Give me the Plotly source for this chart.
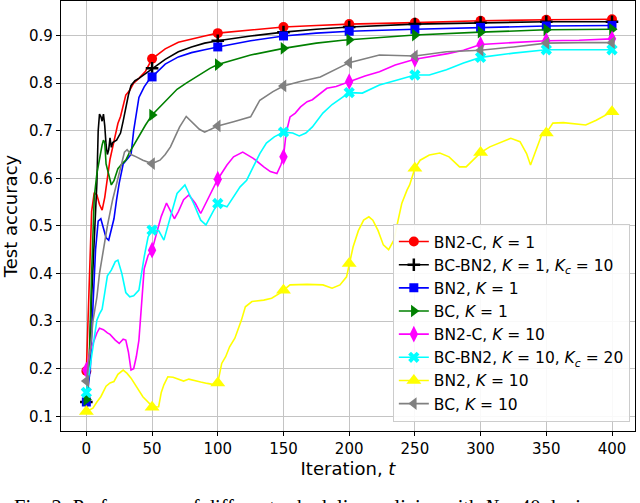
import plotly.graph_objects as go

# ---------------- data ----------------
t_red = [0,2,4,6,8,10,12,14,16,18,20,22,24,26,28,30,33,36,40,45,50,60,70,80,90,100,125,150,175,200,250,300,350,400]
v_red = [0.195,0.36,0.53,0.57,0.565,0.545,0.533,0.56,0.605,0.64,0.665,0.69,0.715,0.73,0.755,0.775,0.785,0.80,0.81,0.825,0.851,0.872,0.886,0.893,0.899,0.905,0.911,0.918,0.921,0.924,0.927,0.931,0.933,0.934]

t_blk = [0,2,4,6,8,9,10,11,12,13,14,15,16,17,18,19,20,23,26,28,30,32,34,37,40,45,50,60,70,80,90,100,125,150,175,200,250,300,350,400]
v_blk = [0.13,0.2,0.35,0.47,0.59,0.70,0.735,0.73,0.72,0.735,0.71,0.67,0.65,0.66,0.685,0.665,0.675,0.68,0.695,0.72,0.75,0.775,0.795,0.805,0.81,0.82,0.831,0.85,0.866,0.876,0.884,0.889,0.899,0.907,0.913,0.918,0.924,0.927,0.929,0.929]

t_blu = [0,3,5,7,9,11,13,15,17,19,21,23,25,28,31,34,36,38,40,44,48,50,60,70,80,90,100,125,150,175,200,250,300,350,400]
v_blu = [0.13,0.2,0.33,0.45,0.51,0.515,0.495,0.475,0.47,0.49,0.515,0.555,0.59,0.63,0.64,0.65,0.70,0.74,0.77,0.792,0.808,0.813,0.840,0.855,0.864,0.870,0.876,0.889,0.899,0.905,0.909,0.913,0.917,0.920,0.921]

t_grn = [0,2,4,6,8,10,12,13,14,15,17,19,21,24,27,30,33,36,40,45,50,56,63,69,76,82,94,100,125,150,175,195,200,250,300,350,400]
v_grn = [0.135,0.2,0.4,0.56,0.61,0.645,0.67,0.68,0.675,0.63,0.61,0.586,0.595,0.62,0.63,0.638,0.655,0.67,0.69,0.712,0.733,0.75,0.77,0.787,0.80,0.81,0.831,0.839,0.859,0.873,0.884,0.89,0.891,0.901,0.907,0.912,0.913]

t_mag = [0,3,6,8,10,13,16,18,22,25,28,30,32,34,36,38,40,42,44,47,50,53,57,61,64,67,70,74,78,83,87,92,97,100,107,112,119,127,135,140,145,148,150,152,155,159,163,168,172,178,183,190,200,212,223,235,250,261,275,287,300,324,350,375,400]
v_mag = [0.197,0.239,0.26,0.275,0.285,0.282,0.275,0.272,0.26,0.253,0.262,0.26,0.235,0.197,0.2,0.225,0.26,0.34,0.41,0.438,0.449,0.48,0.52,0.548,0.53,0.515,0.53,0.555,0.565,0.547,0.526,0.554,0.582,0.598,0.628,0.645,0.655,0.642,0.624,0.614,0.61,0.628,0.645,0.695,0.729,0.737,0.75,0.761,0.765,0.778,0.789,0.793,0.803,0.815,0.824,0.838,0.85,0.855,0.862,0.869,0.881,0.885,0.889,0.89,0.893]

t_cyn = [0,2,4,6,8,10,12,14,16,19,22,24,27,30,33,36,40,42,44,47,50,55,59,64,69,75,82,87,91,97,100,107,112,117,122,127,132,137,143,150,157,162,167,172,180,187,200,210,223,236,250,261,274,287,300,325,350,375,400]
v_cyn = [0.15,0.19,0.233,0.27,0.302,0.315,0.325,0.36,0.395,0.407,0.425,0.428,0.40,0.36,0.351,0.353,0.365,0.40,0.435,0.477,0.491,0.49,0.47,0.519,0.568,0.586,0.545,0.512,0.502,0.533,0.547,0.54,0.561,0.582,0.596,0.624,0.652,0.674,0.687,0.697,0.695,0.689,0.695,0.708,0.737,0.755,0.78,0.779,0.796,0.806,0.817,0.817,0.828,0.842,0.854,0.863,0.87,0.87,0.87]

t_yel = [0,5,8,11,15,18,21,24,28,31,34,38,43,48,50,55,57,59,62,66,70,74,78,82,87,92,96,100,103,106,109,113,118,121,126,135,141,147,150,155,168,180,187,193,198,200,203,207,211,215,218,222,226,230,234,237,240,244,246,250,254,261,269,276,284,289,294,300,307,314,323,330,335,338,342,347,350,355,363,380,388,396,400]
v_yel = [0.11,0.117,0.13,0.141,0.163,0.17,0.173,0.188,0.197,0.19,0.18,0.162,0.141,0.127,0.119,0.12,0.15,0.166,0.183,0.182,0.178,0.174,0.178,0.176,0.172,0.169,0.167,0.17,0.211,0.225,0.246,0.264,0.302,0.33,0.341,0.344,0.348,0.358,0.365,0.376,0.377,0.376,0.369,0.376,0.393,0.421,0.456,0.49,0.512,0.519,0.512,0.49,0.46,0.45,0.47,0.509,0.547,0.575,0.586,0.621,0.638,0.649,0.653,0.645,0.624,0.624,0.638,0.654,0.666,0.674,0.684,0.677,0.652,0.628,0.659,0.695,0.695,0.716,0.717,0.712,0.722,0.733,0.74]

t_gry = [0,3,5,8,10,13,16,20,23,26,29,31,34,38,43,50,56,60,64,68,71,76,81,86,90,95,100,112,125,132,142,150,162,178,193,200,223,235,250,274,300,325,350,375,400]
v_gry = [0.174,0.24,0.30,0.35,0.40,0.45,0.50,0.555,0.59,0.625,0.655,0.66,0.65,0.645,0.638,0.631,0.638,0.65,0.666,0.69,0.708,0.73,0.716,0.703,0.697,0.703,0.71,0.719,0.729,0.764,0.782,0.794,0.803,0.813,0.834,0.843,0.859,0.858,0.857,0.866,0.869,0.876,0.884,0.885,0.885]

labels = [
    "BN2-C, <i>K</i> = 1",
    "BC-BN2, <i>K</i> = 1, <i>K<sub>c</sub></i> = 10",
    "BN2, <i>K</i> = 1",
    "BC, <i>K</i> = 1",
    "BN2-C, <i>K</i> = 10",
    "BC-BN2, <i>K</i> = 10, <i>K<sub>c</sub></i> = 20",
    "BN2, <i>K</i> = 10",
    "BC, <i>K</i> = 10",
]
series_t = [t_red, t_blk, t_blu, t_grn, t_mag, t_cyn, t_yel, t_gry]
series_v = [v_red, v_blk, v_blu, v_grn, v_mag, v_cyn, v_yel, v_gry]

x_ticks = [0, 50, 100, 150, 200, 250, 300, 350, 400]
y_ticks = [0.1, 0.2, 0.3, 0.4, 0.5, 0.6, 0.7, 0.8, 0.9]
y_ticktext = ["0.1", "0.2", "0.3", "0.4", "0.5", "0.6", "0.7", "0.8", "0.9"]
marker_every = 50

# ---------------- styles ----------------
colors = ["#ff0000", "#000000", "#0000ff", "#008000", "#ff00ff", "#00ffff", "#ffff00", "#808080"]
symbols = ["circle", "cross-thin", "square", "triangle-right", "diamond-tall", "x", "triangle-up", "triangle-left"]
sizes = [10, 9, 9, 11, 12, 10, 13, 11]

fig = go.Figure()
for lab, ts, vs, c, s, sz in zip(labels, series_t, series_v, colors, symbols, sizes):
    mk = dict(symbol=s, size=sz, color=c)
    if s == "cross-thin":
        mk["line"] = dict(color=c, width=2.5)
    else:
        mk["line"] = dict(width=0)
    fig.add_trace(go.Scatter(x=ts, y=vs, mode="lines", line=dict(color=c, width=1.6),
                             showlegend=False, hoverinfo="skip"))
    mt = [t for t in ts if t % marker_every == 0]
    mv = [v for t, v in zip(ts, vs) if t % marker_every == 0]
    fig.add_trace(go.Scatter(x=mt, y=mv, mode="markers", marker=mk, showlegend=False))
    fig.add_trace(go.Scatter(x=[None], y=[None], mode="lines+markers", name=lab,
                             line=dict(color=c, width=1.6), marker=mk))

axis_common = dict(showline=True, linecolor="black", linewidth=1.3, mirror=True,
                   ticks="outside", ticklen=4, tickcolor="black", tickwidth=1.2,
                   showgrid=True, gridcolor="#c4c4c4", gridwidth=1.4, zeroline=False,
                   automargin=False,
                   tickfont=dict(family="DejaVu Sans", size=15, color="black"))

fig.update_xaxes(range=[-19.3, 417.5], tickvals=x_ticks,
                 title=dict(text="Iteration, <i>t</i>", font=dict(family="DejaVu Sans", size=18, color="black"), standoff=4),
                 **axis_common)
fig.update_yaxes(range=[0.069, 0.9725], tickvals=y_ticks, ticktext=y_ticktext,
                 title=dict(text="Test accuracy", font=dict(family="DejaVu Sans", size=18, color="black"), standoff=8),
                 **axis_common)

fig.update_layout(
    width=640, height=503,
    margin=dict(l=61, r=5, t=1, b=72, autoexpand=False),
    plot_bgcolor="white", paper_bgcolor="white",
    font=dict(family="DejaVu Sans", color="black"),
    legend=dict(x=0.991, y=0.021, xanchor="right", yanchor="bottom",
                bgcolor="rgba(255,255,255,0.9)", bordercolor="#cccccc", borderwidth=1,
                font=dict(family="DejaVu Sans", size=15.5, color="black"),
                tracegroupgap=0, itemwidth=30),
    annotations=[dict(text="Fig. 2: Performance of different scheduling policies with <i>N</i> = 40 devices.",
                      xref="paper", yref="paper", x=-0.085, y=-0.146, xanchor="left", yanchor="top",
                      showarrow=False, font=dict(family="Liberation Serif", size=20.5, color="black"))],
)

fig.write_html("out.html", config={"displayModeBar": False},
               post_script="document.body.style.margin='0';document.body.style.padding='0';")
